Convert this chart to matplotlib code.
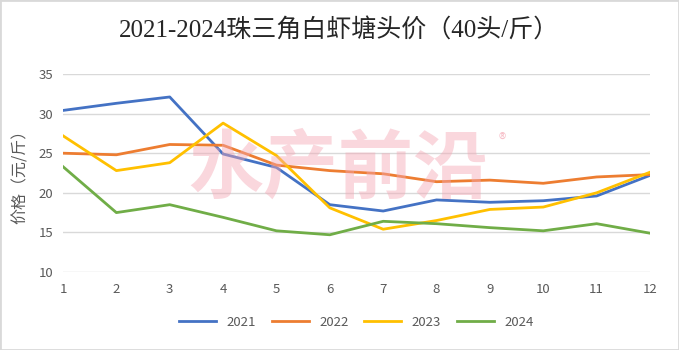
import matplotlib.pyplot as plt
from matplotlib.patches import Rectangle

plt.rcParams['font.family'] = ['Noto Sans CJK SC', 'DejaVu Sans']

months = list(range(1, 13))
years = ["2021", "2022", "2023", "2024"]
price_2021 = [30.4, 31.3, 32.1, 24.9, 23.2, 18.5, 17.7, 19.1, 18.8, 19.0, 19.6, 22.2]
price_2022 = [25.0, 24.8, 26.1, 26.0, 23.5, 22.8, 22.4, 21.4, 21.6, 21.2, 22.0, 22.3]
price_2023 = [27.2, 22.8, 23.8, 28.8, 24.7, 18.1, 15.4, 16.5, 17.9, 18.2, 20.0, 22.6]
price_2024 = [23.3, 17.5, 18.5, 16.9, 15.2, 14.7, 16.4, 16.1, 15.6, 15.2, 16.1, 14.9]

colors = ["#4472C4", "#ED7D31", "#FFC000", "#70AD47"]

fig = plt.figure(figsize=(6.79, 3.5), dpi=100)
ax = fig.add_axes([63 / 679, 1 - 272 / 350, (650 - 63) / 679, (272 - 74) / 350])

# watermark
fig.text(338 / 679, 1 - 170 / 350, "水产前沿", ha="center", va="center",
         fontsize=54, fontweight="bold", color="#f4a7b4", alpha=0.45, zorder=0)
fig.text(502 / 679, 1 - 140 / 350, "®", ha="center", va="center",
         fontsize=11, color="#f4a7b4", alpha=0.7)

for vals, yr, c in zip([price_2021, price_2022, price_2023, price_2024], years, colors):
    ax.plot(months, vals, color=c, lw=2, label=yr, zorder=3)

ax.set_xlim(1, 12)
ax.set_ylim(10, 35)
ax.set_xticks(months)
ax.set_yticks(range(10, 36, 5))
ax.grid(axis="y", color="#d9d9d9", lw=1)
ax.set_axisbelow(True)
for s in ax.spines.values():
    s.set_visible(False)
ax.tick_params(length=0, labelsize=9.5, colors="#595959", pad=8)
ax.tick_params(axis="y", pad=7)
ax.patch.set_alpha(0)
ax.set_ylabel("价格（元/斤）", fontsize=11.5, color="#595959", labelpad=7)

fig.text(0.5, 1 - 31 / 350, "2021-2024珠三角白虾塘头价（40头/斤）", ha="center", va="center",
         fontsize=18, color="#262626", family=["Liberation Serif", "Noto Sans CJK SC"])

ax.legend(loc="upper center", bbox_to_anchor=(0.5, -0.16), ncol=4, frameon=False,
          fontsize=9.5, labelcolor="#595959", handlelength=2.8, columnspacing=1.2)

fig.patches.append(Rectangle((0, 0), 1, 1, transform=fig.transFigure, fill=False,
                             edgecolor="#d9d9d9", lw=2))

fig.savefig("out.png", dpi=100)
